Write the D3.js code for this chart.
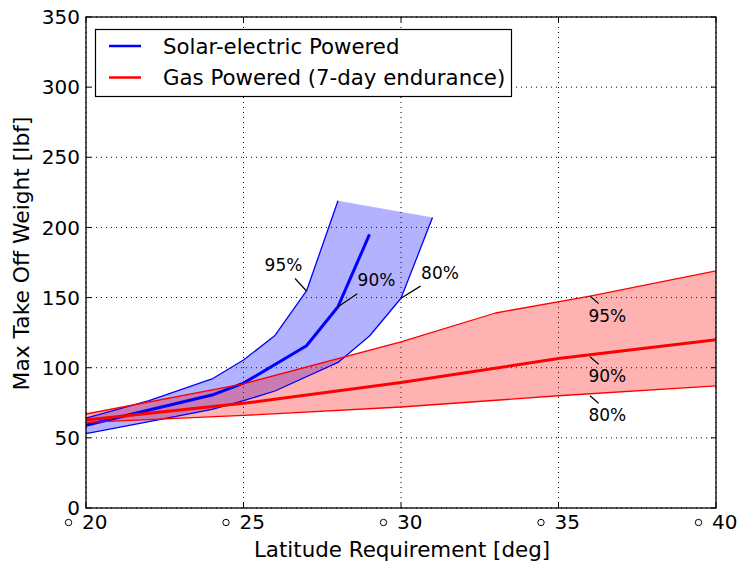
<!DOCTYPE html>
<html><head><meta charset="utf-8">
<script src="https://cdn.jsdelivr.net/npm/d3@7"></script>
<style>body{margin:0;background:#fff} text{font-family:"DejaVu Sans",sans-serif;fill:#000}</style>
</head><body><svg id="c" width="742" height="565"></svg>
<script>
// ---- data ----
const xTicks = [20, 25, 30, 35, 40];
const yTicks = [0, 50, 100, 150, 200, 250, 300, 350];
const xTickLabels = ["20", "25", "30", "35", "40"];
const seriesNames = ["Solar-electric Powered", "Gas Powered (7-day endurance)"];

const solarX95 = [20, 22, 24, 25, 26, 27, 28];
const solar95  = [64, 76.5, 92, 105.5, 123, 154.7, 219];
const solarX90 = [20, 22, 24, 25, 27, 28, 29];
const solar90  = [59, 69.8, 80.5, 89, 115.7, 143.5, 195];
const solarX80 = [20, 22, 24, 25, 26, 28, 29, 30, 31];
const solar80  = [53, 61.5, 70.3, 76.5, 83.4, 103.8, 122.6, 149.5, 207];

const gasX95 = [20, 25, 30, 33, 36, 40];
const gas95  = [67, 88.5, 118.5, 139, 151, 169];
const gasX90 = [20, 25, 30, 35, 40];
const gas90  = [62.7, 74.6, 89.5, 106.5, 120];
const gasX80 = [20, 25, 30, 35, 40];
const gas80  = [61, 66, 72, 80, 87];

const annLabels = ["95%", "90%", "80%", "95%", "90%", "80%"];
const annX = [27, 28, 30, 36, 36, 36];
const annY = [154.7, 143.5, 149.5, 151, 107.8, 80];

// ---- layout ----
const m = {l: 86, r: 716, t: 17, b: 508};
const svg = d3.select("#c");
const x = d3.scaleLinear().domain([20, 40]).range([m.l, m.r]);
const y = d3.scaleLinear().domain([0, 350]).range([m.b, m.t]);
const pts = (xs, ys) => xs.map((v, i) => [v, ys[i]]);
const line = d3.line().x(d => x(d[0])).y(d => y(d[1]));

const g = svg.append("g");
// grid
g.append("g").selectAll("line").data(xTicks).join("line")
  .attr("x1", d => x(d)).attr("x2", d => x(d)).attr("y1", m.t).attr("y2", m.b)
  .attr("stroke", "#000").attr("stroke-width", 1).attr("stroke-dasharray", "1,4");
g.append("g").selectAll("line").data(yTicks).join("line")
  .attr("y1", d => y(d)).attr("y2", d => y(d)).attr("x1", m.l).attr("x2", m.r)
  .attr("stroke", "#000").attr("stroke-width", 1).attr("stroke-dasharray", "1,4");

// bands
const solarBand = pts(solarX95, solar95).concat(pts(solarX80, solar80).reverse());
const gasBand = pts(gasX95, gas95).concat(pts(gasX80, gas80).reverse());
g.append("path").attr("d", line(solarBand) + "Z").attr("fill", "#0000ff").attr("fill-opacity", 0.3).attr("stroke", "none");
g.append("path").attr("d", line(gasBand) + "Z").attr("fill", "#ff0000").attr("fill-opacity", 0.3).attr("stroke", "none");

const lines = [
  [solarX95, solar95, "#0000ff", 1.3], [solarX80, solar80, "#0000ff", 1.3], [solarX90, solar90, "#0000ff", 3],
  [gasX95, gas95, "#ff0000", 1.3], [gasX80, gas80, "#ff0000", 1.3], [gasX90, gas90, "#ff0000", 3]
];
lines.forEach(([xs, ys, c, w]) => {
  g.append("path").attr("d", line(pts(xs, ys))).attr("fill", "none").attr("stroke", c).attr("stroke-width", w).attr("stroke-linejoin", "round");
});

// annotations
const annOff = [[-23, -26], [38.5, -26.7], [39, -25.3], [17.3, 19.5], [17.3, 19.5], [17.3, 19.5]];
annLabels.forEach((lab, i) => {
  const px = x(annX[i]), py = y(annY[i]);
  const [dx, dy] = annOff[i];
  g.append("line").attr("x1", px).attr("y1", py).attr("x2", px + dx * 0.5).attr("y2", py + dy * (i < 3 ? 0.48 : 0.38))
    .attr("stroke", "#000").attr("stroke-width", 1.2);
  g.append("text").attr("x", px + dx).attr("y", py + dy).attr("dy", "0.36em")
    .attr("text-anchor", "middle").attr("font-size", 17).text(lab);
});

// axes frame
svg.append("rect").attr("x", m.l).attr("y", m.t).attr("width", m.r - m.l).attr("height", m.b - m.t)
  .attr("fill", "none").attr("stroke", "#000").attr("stroke-width", 1.3);
const tl = 5;
xTicks.forEach(t => {
  svg.append("line").attr("x1", x(t)).attr("x2", x(t)).attr("y1", m.b).attr("y2", m.b - tl).attr("stroke", "#000");
  svg.append("line").attr("x1", x(t)).attr("x2", x(t)).attr("y1", m.t).attr("y2", m.t + tl).attr("stroke", "#000");
});
yTicks.forEach(t => {
  svg.append("line").attr("y1", y(t)).attr("y2", y(t)).attr("x1", m.l).attr("x2", m.l + tl).attr("stroke", "#000");
  svg.append("line").attr("y1", y(t)).attr("y2", y(t)).attr("x1", m.r).attr("x2", m.r - tl).attr("stroke", "#000");
});
// x tick labels: small degree ring followed by the number
const xt = svg.append("g").selectAll("g").data(xTicks).join("g").attr("transform", d => `translate(${x(d)},0)`);
xt.append("circle").attr("cx", -17.5).attr("cy", 522.5).attr("r", 3.2).attr("fill", "none").attr("stroke", "#000").attr("stroke-width", 1);
xt.append("text").attr("x", -4).attr("y", 529).attr("text-anchor", "start").attr("font-size", 20)
  .text((d, i) => xTickLabels[i]);
svg.append("g").selectAll("text").data(yTicks).join("text")
  .attr("x", m.l - 6).attr("y", d => y(d)).attr("dy", "0.36em").attr("text-anchor", "end").attr("font-size", 20)
  .text(d => d);

svg.append("text").attr("x", (m.l + m.r) / 2 + 1).attr("y", 557).attr("text-anchor", "middle").attr("font-size", 21.4)
  .text("Latitude Requirement [deg]");
svg.append("text").attr("transform", `translate(29,${(m.t + m.b) / 2 - 9}) rotate(-90)`).attr("text-anchor", "middle").attr("font-size", 21.8)
  .text("Max Take Off Weight [lbf]");

// legend
const lg = svg.append("g");
lg.append("rect").attr("x", 95.5).attr("y", 29.5).attr("width", 416).attr("height", 67)
  .attr("fill", "#fff").attr("stroke", "#000").attr("stroke-width", 1.2);
const legColors = ["#0000ff", "#ff0000"];
seriesNames.forEach((n, i) => {
  const yy = 46 + i * 31.5;
  lg.append("line").attr("x1", 109).attr("x2", 141).attr("y1", yy).attr("y2", yy).attr("stroke", legColors[i]).attr("stroke-width", 2.5);
  lg.append("text").attr("x", 163).attr("y", yy).attr("dy", "0.36em").attr("font-size", 21.3).text(n);
});
</script></body></html>
